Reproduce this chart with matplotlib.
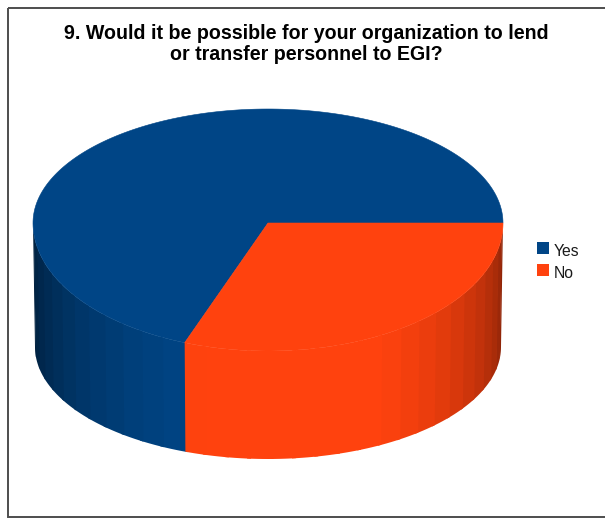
import numpy as np
import matplotlib
matplotlib.use("Agg")
import matplotlib.pyplot as plt
from matplotlib.patches import Polygon, Rectangle
from matplotlib.colors import to_rgb

plt.rcParams['font.family'] = ['Liberation Sans', 'DejaVu Sans']

labels = ["Yes", "No"]
counts = [9, 4]
colors = ["#004586", "#ff420e"]
title_lines = ["9. Would it be possible for your organization to lend",
               "or transfer personnel to EGI?"]

# 3d pie layout (pixel units, y grows downward)
CX, CY = 268, 223          # top face centre
RX = 235
RY_BACK, RY_FRONT = 114, 128
BOT_CY, BOT_RX, BOT_RY = 347, 233, 112
FACET = 5.6                # degrees per side facet


def top_pt(t):
    r = np.radians(t)
    ry = RY_FRONT if np.sin(r) >= 0 else RY_BACK
    return CX + RX * np.cos(r), CY + ry * np.sin(r)


def bot_pt(t):
    r = np.radians(t)
    return CX + BOT_RX * np.cos(r), BOT_CY + BOT_RY * np.sin(r)


def shade(t):
    return min(1.0, 0.48 + 0.56 * np.cos(np.radians(t - 85)))


fig = plt.figure(figsize=(6.05, 5.2), dpi=100)
ax = fig.add_axes([0, 0, 1, 1])
ax.set_xlim(0, 605)
ax.set_ylim(520, 0)
ax.axis('off')

# slices run clockwise on screen, "No" starting at 3 o'clock
total = float(sum(counts))
spans = {}
start = 0.0
for lab, val in zip(labels[::-1], counts[::-1]):
    end = start + 360.0 * val / total
    spans[lab] = (start, end)
    start = end

# side wall (only the front half is visible); facets overlap slightly
# so no seams show between them
for lab, col in zip(labels, colors):
    a0, a1 = spans[lab]
    lo, hi = max(a0, 0.0), min(a1, 180.0)
    if hi <= lo:
        continue
    n = max(1, int(round((hi - lo) / FACET)))
    edges = np.linspace(lo, hi, n + 1)
    base = np.array(to_rgb(col))
    for k, (t1, t2) in enumerate(zip(edges[:-1], edges[1:])):
        t_start = t1 - 0.6 if (k == 0 and t1 > 0) else t1
        t_end = t2 if k == n - 1 else t2 + 1.0
        ts = np.linspace(t_start, t_end, 6)
        pts = [top_pt(t) for t in ts] + [bot_pt(t) for t in ts[::-1]]
        c = np.clip(base * shade(0.5 * (t1 + t2)), 0, 1)
        ax.add_patch(Polygon(pts, closed=True, facecolor=c, edgecolor='none'))

# top face
for lab, col in zip(labels, colors):
    a0, a1 = spans[lab]
    ts = np.linspace(a0, a1, 200)
    pts = [(CX, CY)] + [top_pt(t) for t in ts]
    ax.add_patch(Polygon(pts, closed=True, facecolor=col, edgecolor=col,
                         linewidth=0.4))

# title
ax.text(306.5, 39, title_lines[0], ha='center', va='baseline',
        fontsize=14.1, fontweight='bold', color='black')
ax.text(306.5, 60, title_lines[1], ha='center', va='baseline',
        fontsize=14.1, fontweight='bold', color='black')

# legend
for i, (lab, col) in enumerate(zip(labels, colors)):
    y0 = 242 + 22 * i
    ax.add_patch(Rectangle((537, y0), 12, 12, facecolor=col, edgecolor='none'))
    ax.text(554, y0 + 13.5, lab, ha='left', va='baseline',
            fontsize=11.3, color='#1a1a1a')

# outer frame
ax.add_patch(Rectangle((8, 8), 620, 509, facecolor='none',
                       edgecolor='#4d4d4d', linewidth=1.4))

fig.savefig("out.png", dpi=100)
